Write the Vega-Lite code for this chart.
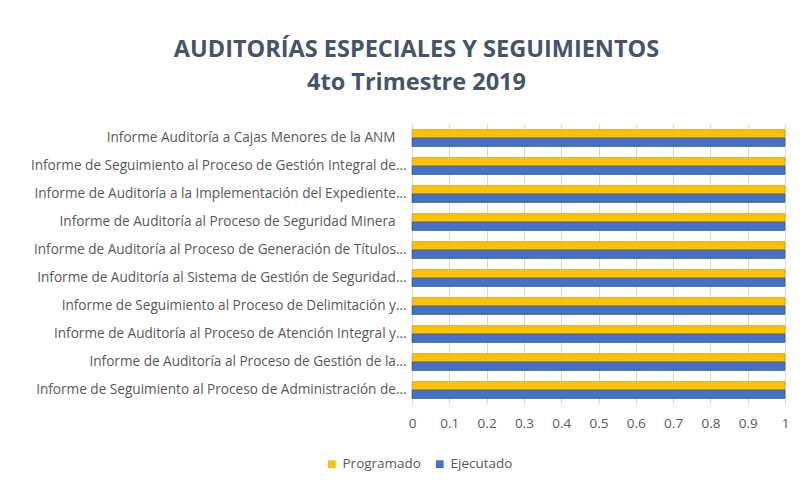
{
  "$schema": "https://vega.github.io/schema/vega-lite/v6.json",
  "autosize": "none",
  "width": 373,
  "height": 280,
  "padding": {"left": 412, "top": 124, "right": 19, "bottom": 81},
  "background": "white",
  "title": {
    "text": ["AUDITORÍAS ESPECIALES Y SEGUIMIENTOS", "4to Trimestre 2019"],
    "anchor": "middle",
    "frame": "group",
    "dx": -182,
    "offset": 30,
    "font": "Open Sans",
    "fontSize": 23.5,
    "fontWeight": "bold",
    "color": "#44546A",
    "lineHeight": 33
  },
  "data": {
    "values": [
      {"informe": "Informe Auditoría a Cajas Menores de la ANM", "serie": "Programado", "valor": 1},
      {"informe": "Informe Auditoría a Cajas Menores de la ANM", "serie": "Ejecutado", "valor": 1},
      {"informe": "Informe de Seguimiento al Proceso de Gestión Integral de…", "serie": "Programado", "valor": 1},
      {"informe": "Informe de Seguimiento al Proceso de Gestión Integral de…", "serie": "Ejecutado", "valor": 1},
      {"informe": "Informe de Auditoría a la Implementación del Expediente…", "serie": "Programado", "valor": 1},
      {"informe": "Informe de Auditoría a la Implementación del Expediente…", "serie": "Ejecutado", "valor": 1},
      {"informe": "Informe de Auditoría al Proceso de Seguridad Minera", "serie": "Programado", "valor": 1},
      {"informe": "Informe de Auditoría al Proceso de Seguridad Minera", "serie": "Ejecutado", "valor": 1},
      {"informe": "Informe de Auditoría al Proceso de Generación de Títulos…", "serie": "Programado", "valor": 1},
      {"informe": "Informe de Auditoría al Proceso de Generación de Títulos…", "serie": "Ejecutado", "valor": 1},
      {"informe": "Informe de Auditoría al Sistema de Gestión de Seguridad…", "serie": "Programado", "valor": 1},
      {"informe": "Informe de Auditoría al Sistema de Gestión de Seguridad…", "serie": "Ejecutado", "valor": 1},
      {"informe": "Informe de Seguimiento al Proceso de Delimitación y…", "serie": "Programado", "valor": 1},
      {"informe": "Informe de Seguimiento al Proceso de Delimitación y…", "serie": "Ejecutado", "valor": 1},
      {"informe": "Informe de Auditoría al Proceso de Atención Integral y…", "serie": "Programado", "valor": 1},
      {"informe": "Informe de Auditoría al Proceso de Atención Integral y…", "serie": "Ejecutado", "valor": 1},
      {"informe": "Informe de Auditoría al Proceso de Gestión de la…", "serie": "Programado", "valor": 1},
      {"informe": "Informe de Auditoría al Proceso de Gestión de la…", "serie": "Ejecutado", "valor": 1},
      {"informe": "Informe de Seguimiento al Proceso de Administración de…", "serie": "Programado", "valor": 1},
      {"informe": "Informe de Seguimiento al Proceso de Administración de…", "serie": "Ejecutado", "valor": 1}
    ]
  },
  "mark": {"type": "bar", "strokeWidth": 0.7},
  "encoding": {
    "y": {
      "field": "informe",
      "type": "nominal",
      "sort": null,
      "scale": {"paddingInner": 0.4, "paddingOuter": 0.2},
      "axis": {
        "title": null,
        "labelFont": "Open Sans",
        "labelFontSize": 13.6,
        "labelColor": "#595959",
        "labelLimit": 0,
        "labelPadding": {"condition": {"test": "indexof(datum.value, '…') < 0", "value": 17}, "value": 6},
        "ticks": false,
        "domainColor": "#D9D9D9"
      }
    },
    "yOffset": {
      "field": "serie",
      "type": "nominal",
      "sort": ["Programado", "Ejecutado"],
      "scale": {"paddingInner": 0, "paddingOuter": 0}
    },
    "x": {
      "field": "valor",
      "type": "quantitative",
      "scale": {"domain": [0, 1], "nice": false},
      "axis": {
        "title": null,
        "values": [0, 0.1, 0.2, 0.3, 0.4, 0.5, 0.6, 0.7, 0.8, 0.9, 1],
        "format": "~g",
        "labelFont": "Open Sans",
        "labelFontSize": 13.5,
        "labelColor": "#595959",
        "labelPadding": 12,
        "ticks": false,
        "domain": false,
        "gridColor": "#D9D9D9",
        "labelFlush": false
      }
    },
    "color": {
      "field": "serie",
      "type": "nominal",
      "scale": {"domain": ["Programado", "Ejecutado"], "range": ["#FFC000", "#4472C4"]},
      "legend": {
        "title": null,
        "orient": "none",
        "direction": "horizontal",
        "legendX": -87,
        "legendY": 333,
        "symbolType": "square",
        "symbolSize": 60,
        "symbolStrokeWidth": 0,
        "labelFont": "Open Sans",
        "labelFontSize": 13.5,
        "labelColor": "#595959",
        "columnPadding": 12
      }
    },
    "stroke": {
      "field": "serie",
      "type": "nominal",
      "scale": {"domain": ["Programado", "Ejecutado"], "range": ["#C9A13A", "#2F5597"]},
      "legend": null
    }
  },
  "config": {"view": {"stroke": null}}
}
